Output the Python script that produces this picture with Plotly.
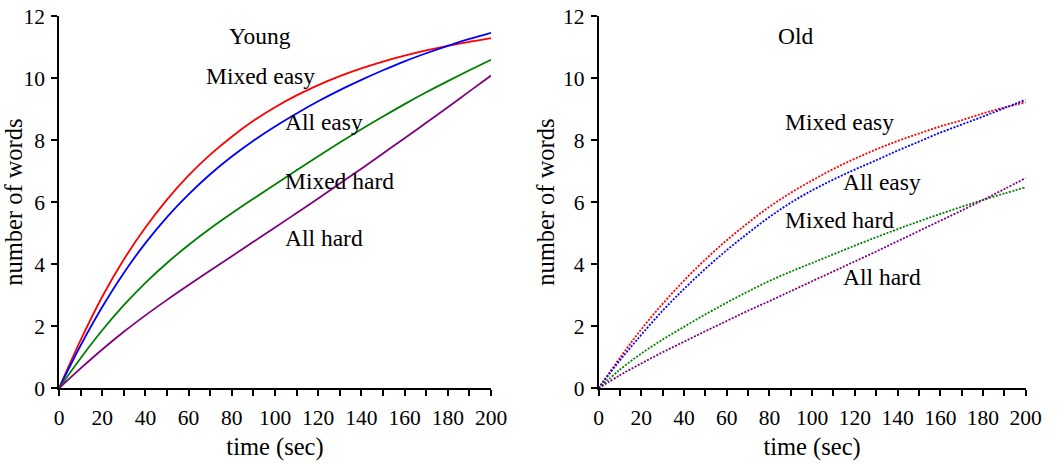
import plotly.graph_objects as go

time_sec = [0, 10, 20, 30, 40, 50, 60, 70, 80, 90, 100, 110, 120, 130, 140, 150, 160, 170, 180, 190, 200]

# Young (solid lines)
young_mixed_easy = [0, 1.55, 2.95, 4.15, 5.18, 6.08, 6.86, 7.53, 8.11, 8.62, 9.06, 9.44, 9.77, 10.06, 10.31, 10.53, 10.72, 10.89, 11.04, 11.17, 11.29]
young_all_easy = [0, 1.38, 2.62, 3.72, 4.68, 5.52, 6.25, 6.9, 7.47, 7.98, 8.44, 8.86, 9.25, 9.61, 9.94, 10.25, 10.54, 10.8, 11.04, 11.26, 11.46]
young_mixed_hard = [0, 0.97, 1.87, 2.68, 3.4, 4.04, 4.62, 5.15, 5.64, 6.11, 6.57, 7.03, 7.48, 7.92, 8.35, 8.76, 9.16, 9.54, 9.9, 10.25, 10.59]
young_all_hard = [0, 0.64, 1.25, 1.82, 2.35, 2.85, 3.33, 3.8, 4.26, 4.72, 5.18, 5.65, 6.12, 6.6, 7.08, 7.57, 8.06, 8.56, 9.06, 9.57, 10.08]

# Old (dotted lines)
old_mixed_easy = [0, 0.98, 1.9, 2.72, 3.47, 4.15, 4.77, 5.33, 5.85, 6.3, 6.7, 7.07, 7.4, 7.7, 7.97, 8.21, 8.44, 8.64, 8.86, 9.05, 9.22]
old_all_easy = [0, 0.9, 1.72, 2.5, 3.2, 3.85, 4.45, 5.0, 5.52, 5.98, 6.38, 6.73, 7.05, 7.35, 7.66, 7.95, 8.24, 8.5, 8.76, 9.03, 9.3]
old_mixed_hard = [0, 0.6, 1.12, 1.57, 1.98, 2.38, 2.76, 3.12, 3.46, 3.76, 4.04, 4.32, 4.6, 4.87, 5.13, 5.38, 5.62, 5.85, 6.07, 6.28, 6.48]
old_all_hard = [0, 0.42, 0.8, 1.16, 1.5, 1.84, 2.17, 2.5, 2.81, 3.13, 3.45, 3.77, 4.09, 4.41, 4.74, 5.07, 5.4, 5.73, 6.07, 6.42, 6.78]

series_names = ["Mixed easy", "All easy", "Mixed hard", "All hard"]
colors = ["#ff0000", "#0000ff", "#008000", "#800080"]

x_tickvals = list(range(0, 201, 10))
x_ticktext = [str(v) if v % 20 == 0 else "" for v in x_tickvals]
y_tickvals = [0, 2, 4, 6, 8, 10, 12]

FONT = "Liberation Serif, Times New Roman, serif"

fig = go.Figure()

young = [young_mixed_easy, young_all_easy, young_mixed_hard, young_all_hard]
old = [old_mixed_easy, old_all_easy, old_mixed_hard, old_all_hard]

for name, vals, col in zip(series_names, young, colors):
    fig.add_trace(go.Scatter(x=time_sec, y=vals, mode="lines", name=name,
                             line=dict(color=col, width=1.8, shape="spline", smoothing=1.0),
                             xaxis="x", yaxis="y", showlegend=False))
for name, vals, col in zip(series_names, old, colors):
    fig.add_trace(go.Scatter(x=time_sec, y=vals, mode="lines", name=name,
                             line=dict(color=col, width=1.8, dash="2px,1.5px", shape="spline", smoothing=1.0),
                             xaxis="x2", yaxis="y2", showlegend=False))

W, H = 1064, 463
y_dom = [(H - 388.3) / H, (H - 16) / H]

def xaxis(dom, anchor):
    return dict(domain=dom, anchor=anchor, range=[0, 200], showgrid=False, zeroline=False,
                automargin=False,
                showline=True, linecolor="black", linewidth=1.5,
                ticks="outside", ticklen=6, tickwidth=1.5, tickcolor="black",
                tickvals=x_tickvals, ticktext=x_ticktext, ticklabelstandoff=3,
                tickfont=dict(family=FONT, size=21.5, color="black"),
                title=dict(text="time (sec)", font=dict(family=FONT, size=24.5, color="black"), standoff=9))

def yaxis(anchor):
    return dict(domain=y_dom, anchor=anchor, range=[0, 12], showgrid=False, zeroline=False,
                automargin=False,
                showline=True, linecolor="black", linewidth=1.5,
                ticks="outside", ticklen=6, tickwidth=1.5, tickcolor="black",
                tickvals=y_tickvals, ticklabelstandoff=2,
                tickfont=dict(family=FONT, size=21.5, color="black"),
                title=dict(text="number of words", font=dict(family=FONT, size=24.5, color="black"), standoff=1))

annots = []
def add_text(txt, x, y, xr, yr, xanchor="left"):
    annots.append(dict(text=txt, x=x, y=y, xref=xr, yref=yr, xanchor=xanchor, yanchor="middle",
                       showarrow=False, font=dict(family=FONT, size=23.5, color="black")))

add_text("Young", 78, 11.34, "x", "y")
add_text("Mixed easy", 67, 10.07, "x", "y")
add_text("All easy", 103.6, 8.57, "x", "y")
add_text("Mixed hard", 103.6, 6.69, "x", "y")
add_text("All hard", 103.6, 4.84, "x", "y")

add_text("Old", 83, 11.37, "x2", "y2")
add_text("Mixed easy", 86.5, 8.57, "x2", "y2")
add_text("All easy", 113.4, 6.66, "x2", "y2")
add_text("Mixed hard", 86.5, 5.43, "x2", "y2")
add_text("All hard", 113.4, 3.6, "x2", "y2")

fig.update_layout(
    width=W, height=H,
    margin=dict(l=0, r=0, t=0, b=0),
    paper_bgcolor="white", plot_bgcolor="white",
    xaxis=xaxis([59 / W, 491 / W], "y"),
    yaxis=yaxis("x"),
    xaxis2=xaxis([598.5 / W, 1025.7 / W], "y2"),
    yaxis2=yaxis("x2"),
    annotations=annots,
    showlegend=False,
)

fig.write_html("out.html")
